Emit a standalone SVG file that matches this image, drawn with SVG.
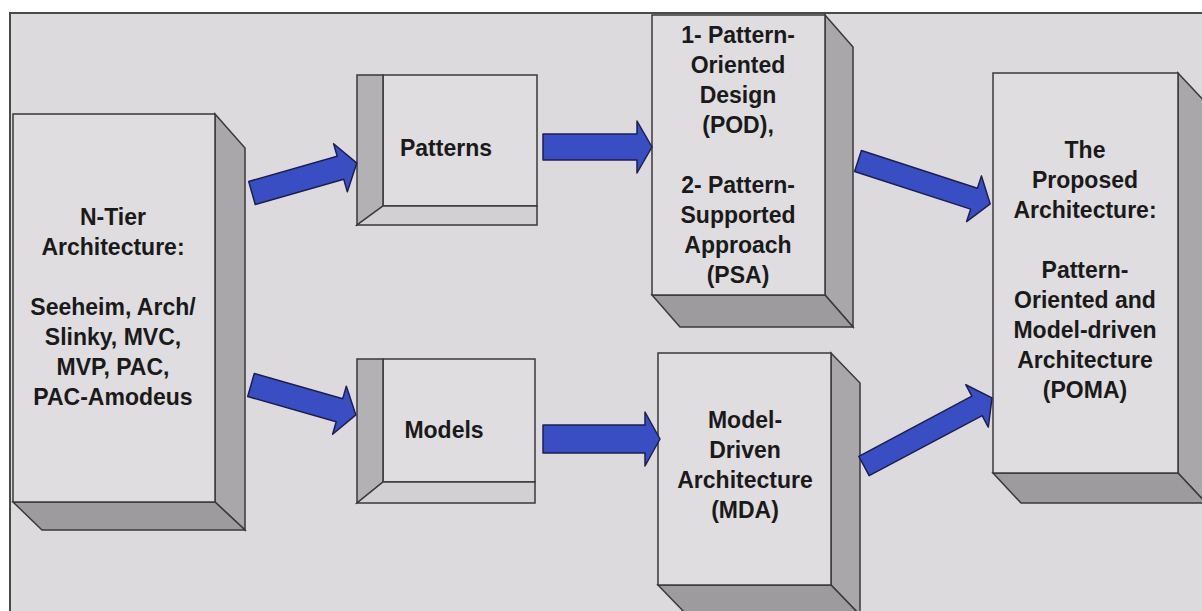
<svg xmlns="http://www.w3.org/2000/svg" width="1202" height="611" viewBox="0 0 1202 611">
<style>
.front{fill:#dfdddf;stroke:#3a3a3a;stroke-width:1.5}
.side{fill:#a9a7a9;stroke:#3a3a3a;stroke-width:1.5}
.bottom{fill:#9d9b9d;stroke:#3a3a3a;stroke-width:1.5}
.ileft{fill:#b3b1b3;stroke:#3a3a3a;stroke-width:1.5}
.ibottom{fill:#d2d0d2;stroke:#3a3a3a;stroke-width:1.5}
.arrow{fill:#3a4ec4;stroke:#1c1f4e;stroke-width:1.5;stroke-linejoin:round}
text{font-family:"Liberation Sans",Arial,sans-serif;font-weight:bold;font-size:23px;fill:#1a1a1a;text-anchor:middle}
</style>
<rect x="0" y="0" width="1202" height="611" fill="#ffffff"/>
<rect x="10" y="13" width="1200" height="610" fill="#dcdadc" stroke="#4a4a4a" stroke-width="2"/>

<g id="ntier">
<polygon class="side" points="215,114 245,148 245,530 215,502"/>
<polygon class="bottom" points="13,502 215,502 245,530 42,530"/>
<rect class="front" x="13" y="114" width="202" height="388"/>
<text x="113" y="225">N-Tier</text>
<text x="113" y="255">Architecture:</text>
<text x="113" y="315">Seeheim, Arch/</text>
<text x="113" y="345">Slinky, MVC,</text>
<text x="113" y="375">MVP, PAC,</text>
<text x="113" y="405">PAC-Amodeus</text>
</g>

<g id="patterns">
<rect class="front" x="383" y="75" width="154" height="131"/>
<polygon class="ileft" points="357,75 383,75 383,206 357,225"/>
<polygon class="ibottom" points="383,206 537,206 537,225 357,225"/>
<text x="446" y="156">Patterns</text>
</g>

<g id="models">
<rect class="front" x="383" y="359" width="152" height="123"/>
<polygon class="ileft" points="357,359 383,359 383,482 357,503"/>
<polygon class="ibottom" points="383,482 535,482 535,503 357,503"/>
<text x="444" y="438">Models</text>
</g>

<g id="pod">
<polygon class="side" points="825,15 853,47 853,327 825,295"/>
<polygon class="bottom" points="652,295 825,295 853,327 680,327"/>
<rect class="front" x="652" y="15" width="173" height="280"/>
<text x="738" y="43">1- Pattern-</text>
<text x="738" y="73">Oriented</text>
<text x="738" y="103">Design</text>
<text x="738" y="133">(POD),</text>
<text x="738" y="193">2- Pattern-</text>
<text x="738" y="223">Supported</text>
<text x="738" y="253">Approach</text>
<text x="738" y="283">(PSA)</text>
</g>

<g id="mda">
<polygon class="side" points="831,353 860,383 860,615 831,585"/>
<polygon class="bottom" points="658,585 831,585 860,615 687,615"/>
<rect class="front" x="658" y="353" width="173" height="232"/>
<text x="745" y="428">Model-</text>
<text x="745" y="458">Driven</text>
<text x="745" y="488">Architecture</text>
<text x="745" y="518">(MDA)</text>
</g>

<g id="poma">
<polygon class="side" points="1178,73 1206,103 1206,503 1178,473"/>
<polygon class="bottom" points="993,473 1178,473 1206,503 1021,503"/>
<rect class="front" x="993" y="73" width="185" height="400"/>
<text x="1085" y="158">The</text>
<text x="1085" y="188">Proposed</text>
<text x="1085" y="218">Architecture:</text>
<text x="1085" y="278">Pattern-</text>
<text x="1085" y="308">Oriented and</text>
<text x="1085" y="338">Model-driven</text>
<text x="1085" y="368">Architecture</text>
<text x="1085" y="398">(POMA)</text>
</g>

<g id="connectors">
<polygon class="arrow" transform="translate(252,193) rotate(-15.9)" points="0,-12 92,-12 92,-25 109,0 92,25 92,12 0,12"/>
<polygon class="arrow" transform="translate(543,147)" points="0,-13 94,-13 94,-26 109,0 94,26 94,13 0,13"/>
<polygon class="arrow" transform="translate(251,385) rotate(15.9)" points="0,-12 92,-12 92,-25 109,0 92,25 92,12 0,12"/>
<polygon class="arrow" transform="translate(543,439)" points="0,-14 102,-14 102,-27 117,0 102,27 102,14 0,14"/>
<polygon class="arrow" transform="translate(858,161) rotate(18)" points="0,-11 122,-11 122,-24 139,0 122,24 122,11 0,11"/>
<polygon class="arrow" transform="translate(864,466) rotate(-28)" points="0,-11 128,-11 128,-24 145,0 128,24 128,11 0,11"/>
</g>
</svg>
